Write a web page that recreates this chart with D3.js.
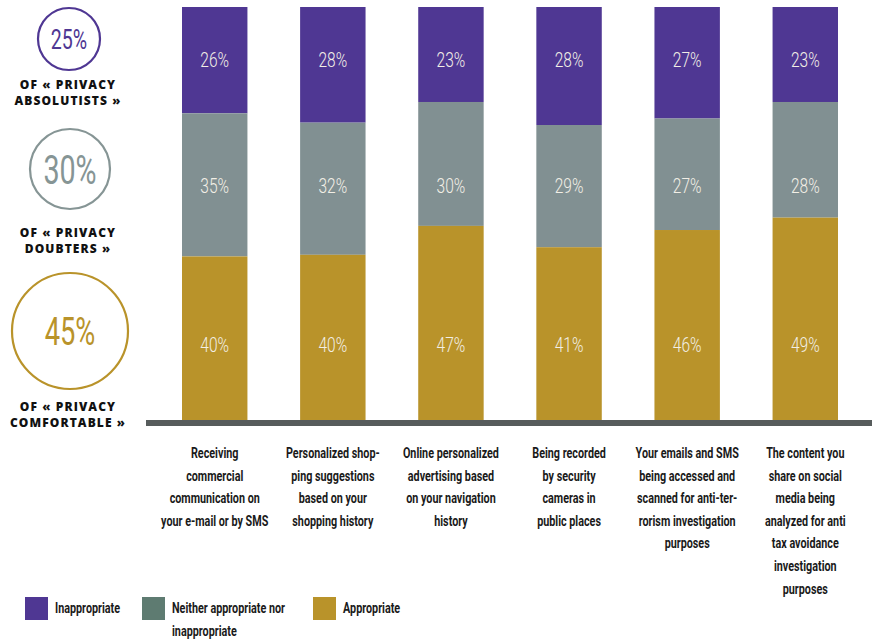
<!DOCTYPE html>
<html>
<head>
<meta charset="utf-8">
<script src="https://cdn.jsdelivr.net/npm/d3@7"></script>
<style>
  body { margin: 0; background: #fff; }
  svg { display: block; }
  .cond { font-family: "Roboto", "Liberation Sans", sans-serif; }
  .caps { font-family: "Open Sans", "Lato", sans-serif; font-weight: 800; }
</style>
</head>
<body>
<svg id="chart" width="872" height="641"></svg>
<script>

const categories = [
    ["Receiving", "commercial", "communication on", "your e-mail or by SMS"],
    ["Personalized shop-", "ping suggestions", "based on your", "shopping history"],
    ["Online personalized", "advertising based", "on your navigation", "history"],
    ["Being recorded", "by security", "cameras in", "public places"],
    ["Your emails and SMS", "being accessed and", "scanned for anti-ter-", "rorism investigation", "purposes"],
    ["The content you", "share on social", "media being", "analyzed for anti", "tax avoidance", "investigation", "purposes"]
];

const series_names = ["Inappropriate", "Neither appropriate nor inappropriate", "Appropriate"];
const inappropriate = [26, 28, 23, 28, 27, 23];
const neither       = [35, 32, 30, 29, 27, 28];
const appropriate   = [40, 40, 47, 41, 46, 49];

// left side profiles
const profile_share = ["25%", "30%", "45%"];
const profile_name = [["OF « PRIVACY", "ABSOLUTISTS »"], ["OF « PRIVACY", "DOUBTERS »"], ["OF « PRIVACY", "COMFORTABLE »"]];

const vis = {

    svg : d3.select('#chart'),

    colors : {
        bars : ["#4f3793", "#819092", "#b9932a"],
        legend : ["#4f3793", "#5e7b71", "#b9932a"],
        circle : ["#4f3793", "#869595", "#b9932a"]
    },

    // row where the value labels sit, as share of the bar height
    label_rows : [0.128, 0.431, 0.818],

    // no condensed font installed, so squeeze the text sideways
    narrow : function(parent, x, y, sx) {
        return parent.append('g')
          .attr('transform', `translate(${x},${y})`)
          .append('text')
          .attr('class', 'cond')
          .attr('transform', `scale(${sx},1)`);
    },

    scales : {

        x : null,
        y : null,

        build : function() {

            this.x = d3.scaleBand()
              .domain(d3.range(categories.length))
              .range([182, 838])
              .paddingInner(0.446)
              .paddingOuter(0);

            this.y = d3.scaleLinear()
              .domain([0, 1])
              .range([7, 420]);

        }

    },

    bars : {

        draw : function() {

            const x = vis.scales.x, y = vis.scales.y;

            const rows = categories.map((c, i) => ({ i : i, s0 : inappropriate[i], s1 : neither[i], s2 : appropriate[i] }));

            // stacked from the top, so inappropriate comes first
            const stack = d3.stack()
              .keys(["s0", "s1", "s2"])
              .offset(d3.stackOffsetExpand);

            const layers = stack(rows);

            const g = vis.svg.append('g');

            g.selectAll('g.layer')
              .data(layers)
              .join('g')
              .attr('class', 'layer')
              .attr('fill', (d, k) => vis.colors.bars[k])
              .selectAll('rect')
              .data(d => d)
              .join('rect')
              .attr('x', d => x(d.data.i))
              .attr('width', x.bandwidth())
              .attr('y', d => y(d[0]))
              .attr('height', d => y(d[1]) - y(d[0]));

            const vals = [inappropriate, neither, appropriate];

            vals.forEach((arr, k) => {
                arr.forEach((v, i) => {
                    vis.narrow(g, x(i) + x.bandwidth() / 2, y(vis.label_rows[k]), 0.74)
                      .attr('dy', '0.36em')
                      .attr('text-anchor', 'middle')
                      .attr('fill', '#f2efe6')
                      .attr('font-size', 21)
                      .attr('font-weight', 300)
                      .text(v + '%');
                });
            });

            // baseline
            g.append('rect')
              .attr('x', 146)
              .attr('y', y(1))
              .attr('width', 872 - 146)
              .attr('height', 6)
              .attr('fill', '#575c5c');

        }

    },

    categories : {

        draw : function() {

            const x = vis.scales.x;

            categories.forEach((lines, i) => {

                vis.narrow(vis.svg, x(i) + x.bandwidth() / 2, 458, 0.72)
                  .attr('text-anchor', 'middle')
                  .attr('font-size', 15)
                  .attr('font-weight', 'bold')
                  .attr('fill', '#1a1a1a')
                  .selectAll('tspan')
                  .data(lines)
                  .join('tspan')
                  .attr('x', 0)
                  .attr('dy', (d, j) => j === 0 ? 0 : 22.6)
                  .text(d => d);

            });

        }

    },

    profiles : {

        centers : [[69, 39, 31], [70, 169, 40], [70, 331, 58]],
        font : [28, 41, 39],
        label_y : [85, 233, 407],

        draw : function() {

            const g = vis.svg.append('g');

            profile_share.forEach((p, k) => {

                const c = this.centers[k];

                g.append('circle')
                  .attr('cx', c[0])
                  .attr('cy', c[1])
                  .attr('r', c[2])
                  .attr('fill', 'none')
                  .attr('stroke', vis.colors.circle[k])
                  .attr('stroke-width', 2.2);

                vis.narrow(g, c[0], c[1], 0.7)
                  .attr('dy', '0.36em')
                  .attr('text-anchor', 'middle')
                  .attr('font-size', this.font[k])
                  .attr('fill', vis.colors.circle[k])
                  .text(p);

                g.append('text')
                  .attr('class', 'caps')
                  .attr('text-anchor', 'middle')
                  .attr('font-size', 12)
                  .attr('letter-spacing', 1.1)
                  .attr('fill', '#111')
                  .attr('y', this.label_y[k])
                  .selectAll('tspan')
                  .data(profile_name[k])
                  .join('tspan')
                  .attr('x', 68)
                  .attr('dy', (d, j) => j === 0 ? '0.36em' : 16)
                  .text(d => d);

            });

        }

    },

    legend : {

        xs : [25, 142, 313],

        draw : function() {

            const g = vis.svg.append('g');

            series_names.forEach((s, k) => {

                g.append('rect')
                  .attr('x', this.xs[k])
                  .attr('y', 597)
                  .attr('width', 23)
                  .attr('height', 23)
                  .attr('fill', vis.colors.legend[k]);

                const lines = k === 1 ? ["Neither appropriate nor", "inappropriate"] : [s];

                vis.narrow(g, this.xs[k] + 30, 608, 0.72)
                  .attr('font-size', 15)
                  .attr('font-weight', 'bold')
                  .attr('fill', '#1a1a1a')
                  .selectAll('tspan')
                  .data(lines)
                  .join('tspan')
                  .attr('x', 0)
                  .attr('dy', (d, j) => j === 0 ? '0.36em' : 22.5)
                  .text(d => d);

            });

        }

    },

    ctrl : {

        init : function() {
            vis.scales.build();
            vis.bars.draw();
            vis.categories.draw();
            vis.profiles.draw();
            vis.legend.draw();
        }

    }

}

vis.ctrl.init();
</script>
</body>
</html>
